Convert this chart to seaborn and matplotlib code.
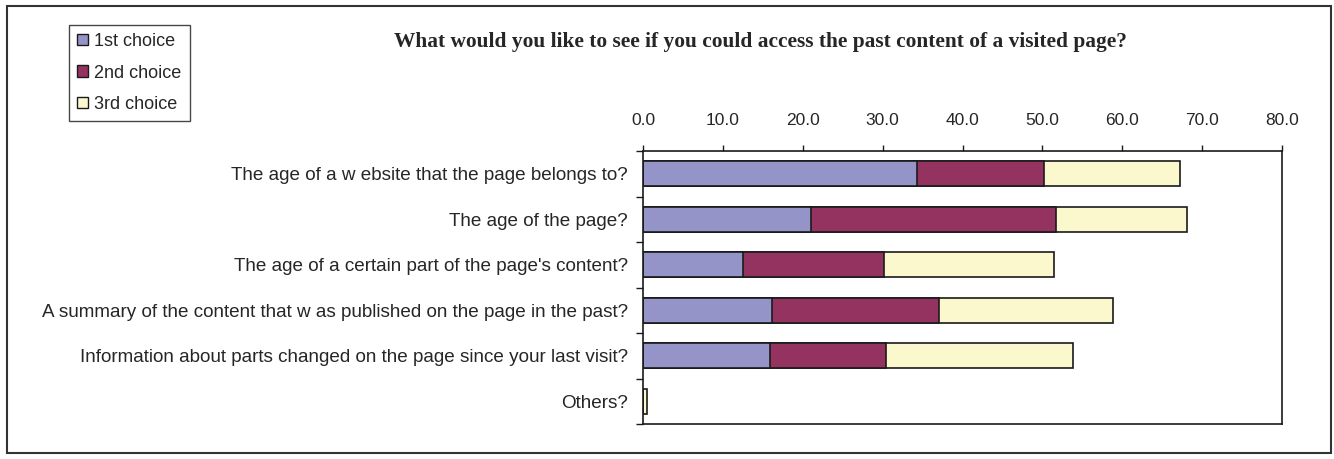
import matplotlib
matplotlib.use("Agg")
import matplotlib.pyplot as plt
import seaborn as sns
import numpy as np
import pandas as pd
from matplotlib.patches import Patch, Rectangle

categories = [
    "The age of a w ebsite that the page belongs to?",
    "The age of the page?",
    "The age of a certain part of the page's content?",
    "A summary of the content that w as published on the page in the past?",
    "Information about parts changed on the page since your last visit?",
    "Others?",
]
first_choice = [34.3, 21.0, 12.5, 16.1, 15.9, 0.0]
second_choice = [15.9, 30.7, 17.7, 20.9, 14.5, 0.0]
third_choice = [17.0, 16.4, 21.3, 21.9, 23.4, 0.5]
series_names = ["1st choice", "2nd choice", "3rd choice"]
xticks = [0, 10, 20, 30, 40, 50, 60, 70, 80]
title = "What would you like to see if you could access the past content of a visited page?"

colors = ["#9494C9", "#943360", "#FBF8CE"]

sns.set_theme(style="white")
plt.rcParams["font.family"] = ["Liberation Sans", "DejaVu Sans"]

W, H = 1334, 459
fig = plt.figure(figsize=(W / 100, H / 100), dpi=100)
fig.patch.set_facecolor("white")

l, r, t, b = 643, 1282, 151, 424
ax = fig.add_axes([l / W, 1 - b / H, (r - l) / W, (b - t) / H])

df = pd.DataFrame({
    "category": categories,
    "c1": np.array(first_choice),
    "c2": np.array(first_choice) + np.array(second_choice),
    "c3": np.array(first_choice) + np.array(second_choice) + np.array(third_choice),
})

for col, color in zip(["c3", "c2", "c1"], colors[::-1]):
    sns.barplot(data=df, y="category", x=col, orient="h", color=color,
                edgecolor="#1a1a1a", linewidth=1.2, width=0.55, ax=ax,
                saturation=1)

ax.set_xlim(0, 80)
ax.set_ylim(len(categories) - 0.5, -0.5)
ax.xaxis.tick_top()
ax.set_xticks(xticks)
ax.set_xticklabels([f"{v:.1f}" for v in xticks], fontsize=12.5)
ax.tick_params(axis="x", direction="out", length=4.5, width=1, pad=12, color="#1a1a1a",
               top=True, bottom=False)
ax.set_yticks(np.arange(len(categories) + 1) - 0.5, minor=True)
ax.set_yticks(np.arange(len(categories)))
ax.set_yticklabels(categories, fontsize=13.6)
ax.tick_params(axis="y", which="major", length=0, pad=11)
ax.tick_params(axis="y", which="minor", direction="out", length=5, width=1, color="#1a1a1a", left=True)
ax.set_xlabel("")
ax.set_ylabel("")
for s in ax.spines.values():
    s.set_visible(True)
    s.set_color("#1a1a1a")
    s.set_linewidth(1.2)

fig.text(760 / W, 1 - 42 / H, title, ha="center", va="center",
         fontsize=15.4, fontweight="bold", family=["Liberation Serif", "DejaVu Serif"])

handles = [Patch(facecolor=c, edgecolor="#1a1a1a", linewidth=1) for c in colors]
leg = fig.legend(handles, series_names, loc="upper left",
                 bbox_to_anchor=(69 / W, 1 - 25 / H), fontsize=13,
                 frameon=True, fancybox=False, handlelength=0.6, handleheight=0.6,
                 handletextpad=0.35, labelspacing=0.8, borderpad=0.45, borderaxespad=0)
leg.get_frame().set_edgecolor("#1a1a1a")
leg.get_frame().set_linewidth(1)

fig.patches.append(Rectangle((7 / W, 1 - 453 / H), (1331 - 7) / W, (453 - 6) / H,
                             transform=fig.transFigure, fill=False,
                             edgecolor="#333333", linewidth=1.5))

fig.savefig("out.png", dpi=100, facecolor="white")
